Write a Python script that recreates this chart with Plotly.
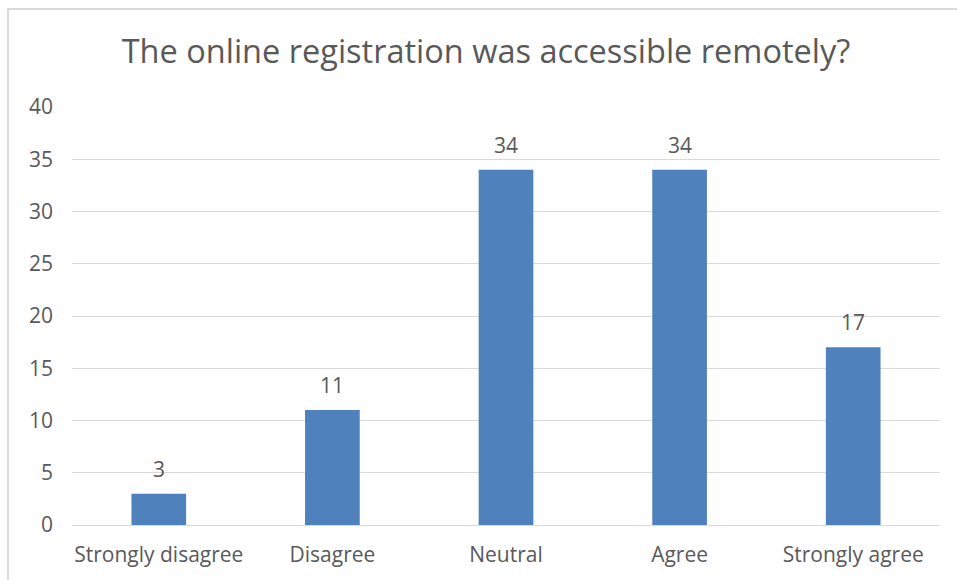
import plotly.graph_objects as go

categories = ["Strongly disagree", "Disagree", "Neutral", "Agree", "Strongly agree"]
values = [3, 11, 34, 34, 17]
y_ticks = [0, 5, 10, 15, 20, 25, 30, 35, 40]

W, H = 957, 580
L, R, T, B = 72, 17, 107, 55
pw, ph = W - L - R, H - T - B

FONT = "Open Sans"
TXT = "#595959"

fig = go.Figure(go.Bar(
    x=categories, y=values,
    marker=dict(color="#4F81BD", line=dict(width=0)),
    hoverinfo="x+y",
))

for c, v in zip(categories, values):
    fig.add_annotation(x=c, y=v, text=str(v), showarrow=False,
                       xanchor="center", yanchor="bottom", yshift=9,
                       font=dict(family=FONT, size=21, color=TXT))

fig.update_layout(
    width=W, height=H,
    margin=dict(l=L, r=R, t=T, b=B),
    paper_bgcolor="white", plot_bgcolor="white",
    bargap=0.685,
    showlegend=False,
    title=dict(text="The online registration was accessible remotely?",
               x=(486 - L) / pw, xanchor="center", y=1 - 52 / H, yanchor="middle",
               xref="paper", yref="container",
               font=dict(family=FONT, size=32.5, color=TXT)),
    xaxis=dict(showgrid=False, showline=False, zeroline=False, ticks="",
               tickfont=dict(family=FONT, size=21, color=TXT),
               ticklabelstandoff=15),
    yaxis=dict(range=[0, 40], tickvals=y_ticks, showgrid=True,
               gridcolor="#D9D9D9", gridwidth=1, zeroline=True,
               zerolinecolor="#D9D9D9", zerolinewidth=1, showline=False,
               ticks="", tickfont=dict(family=FONT, size=21, color=TXT),
               ticklabelstandoff=18),
    shapes=[dict(type="rect", xref="paper", yref="paper",
                 x0=(8 - L) / pw, x1=1.2, y0=-0.3, y1=(H - B - 9) / ph,
                 line=dict(color="#D9D9D9", width=2), fillcolor="rgba(0,0,0,0)",
                 layer="below")],
)

fig.write_html("out.html")
